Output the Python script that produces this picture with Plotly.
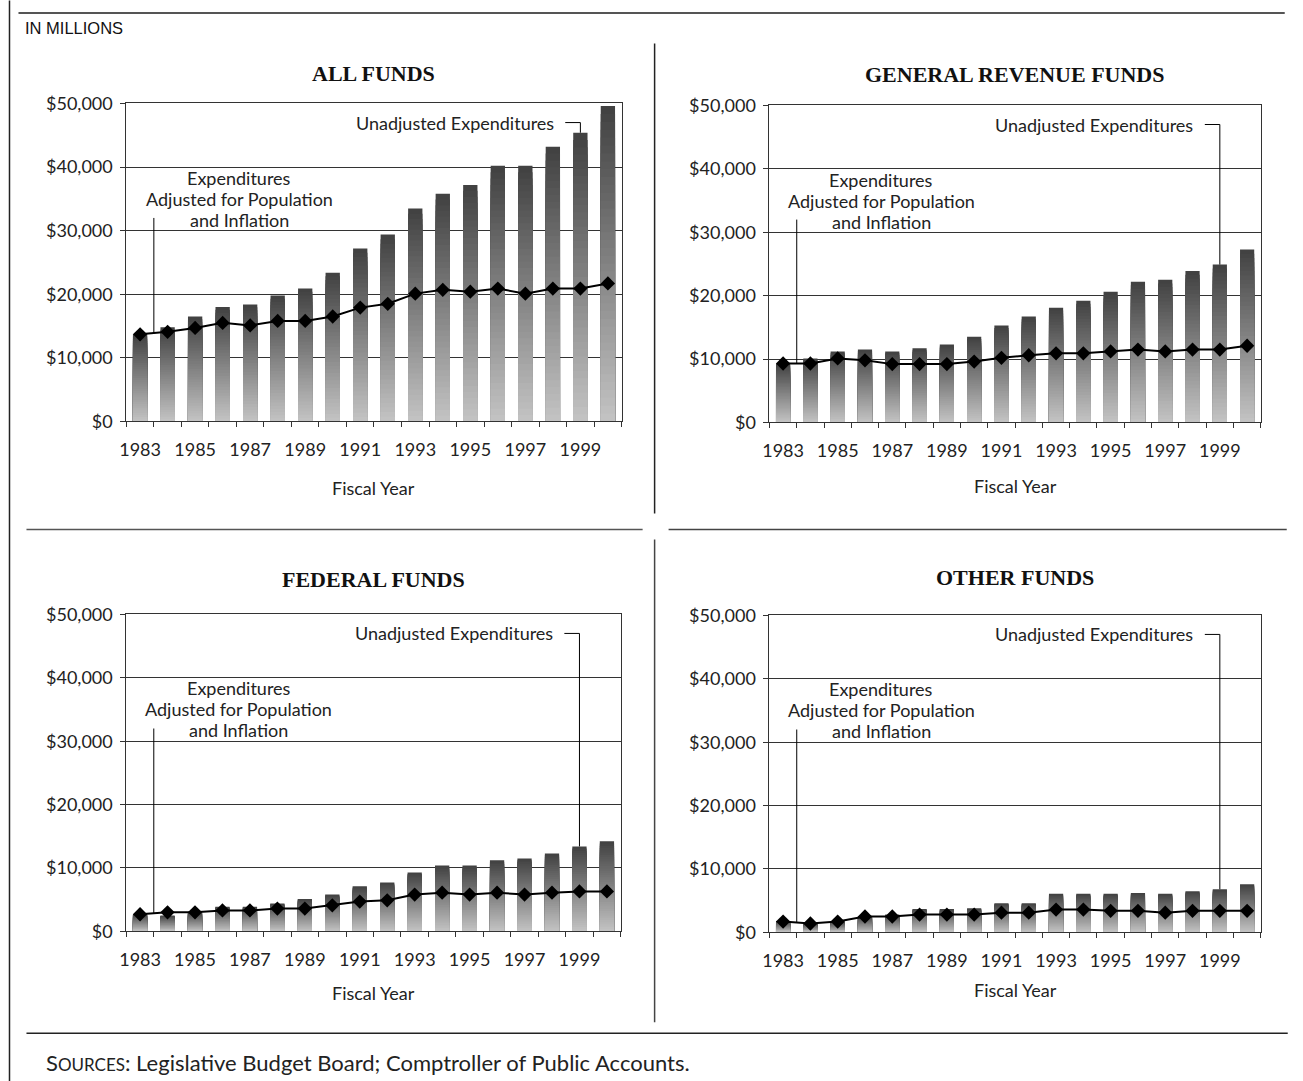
import plotly.graph_objects as go

# ---------------- data ----------------
years = list(range(1983, 2001))
tick_years = list(range(1983, 2000, 2))
tick_labels = [str(y) for y in tick_years]
y_ticks = [0, 10000, 20000, 30000, 40000, 50000]
y_tick_labels = ["$0", "$10,000", "$20,000", "$30,000", "$40,000", "$50,000"]

titles = ["ALL FUNDS", "GENERAL REVENUE FUNDS", "FEDERAL FUNDS", "OTHER FUNDS"]

all_unadjusted = [13700, 14800, 16500, 18000, 18400, 19800, 20900, 23400, 27200,
                  29400, 33500, 35800, 37200, 40200, 40200, 43200, 45400, 49600]
all_adjusted = [13700, 14100, 14700, 15500, 15100, 15800, 15800, 16500, 17900,
                18500, 20100, 20700, 20400, 20900, 20100, 20900, 20900, 21700]

gr_unadjusted = [9300, 10100, 11200, 11500, 11200, 11700, 12300, 13500, 15300,
                 16700, 18100, 19200, 20600, 22200, 22500, 23900, 24900, 27300]
gr_adjusted = [9300, 9300, 10100, 9800, 9200, 9200, 9200, 9600, 10200,
               10600, 10900, 10900, 11200, 11500, 11200, 11500, 11500, 12100]

fed_unadjusted = [2700, 2500, 3000, 3900, 3900, 4400, 5100, 5800, 7100,
                  7700, 9300, 10400, 10400, 11200, 11500, 12300, 13400, 14200]
fed_adjusted = [2700, 3000, 3000, 3300, 3300, 3600, 3600, 4100, 4700,
                4900, 5800, 6100, 5800, 6100, 5800, 6100, 6300, 6300]

oth_unadjusted = [1800, 1400, 1700, 2600, 2800, 3700, 3700, 3800, 4600,
                  4600, 6100, 6100, 6100, 6200, 6100, 6500, 6800, 7600]
oth_adjusted = [1700, 1400, 1700, 2500, 2500, 2800, 2800, 2800, 3100,
                3100, 3600, 3600, 3400, 3400, 3100, 3400, 3400, 3400]

unadjusted_series = [all_unadjusted, gr_unadjusted, fed_unadjusted, oth_unadjusted]
adjusted_series = [all_adjusted, gr_adjusted, fed_adjusted, oth_adjusted]

label_unadj = "Unadjusted Expenditures"
label_adj_lines = ["Expenditures", "Adjusted for Population", "and Inflation"]
x_title = "Fiscal Year"

# ---------------- layout helpers ----------------
FONT = "Lato, 'Noto Sans', sans-serif"
TXT = "#222222"
AX = "#333333"

FW, FH = 1303, 1092
# screen placement of the figure observed in the photographed page
SX, SY, DX, DY = 0.996, 0.98, 5.5, 11.5


def px(x):
    return ((x - DX) / SX) / FW


def py(y):
    return 1 - ((y - DY) / SY) / FH


# plot areas in screen pixels: (left, right, top, bottom)
boxes = [(125, 621, 103, 421), (769, 1261, 105, 422),
         (125, 620, 614, 931), (769, 1261, 615, 932)]
title_y = [73, 74, 579, 577]
xtitle_y = [488, 486, 993, 990]

N = 40
dark, light = 66, 194


def seg_color(k):
    # k = 0 -> full-height bar (darkest, drawn first); later bars lighter and shorter
    t = k / (N - 1)
    v = int(round(dark + (light - dark) * t))
    return f"rgb({v},{v},{v})"


fig = go.Figure()
annotations = []
shapes = []
layout_axes = {}

for i in range(4):
    s = "" if i == 0 else str(i + 1)
    xa, ya = "x" + s, "y" + s
    unadj = unadjusted_series[i]
    adj = adjusted_series[i]
    l, r, t, b = boxes[i]

    for k in range(N):
        frac = (N - k) / N
        fig.add_trace(go.Bar(
            x=years, y=[v * frac for v in unadj],
            width=0.52, marker=dict(color=seg_color(k), line=dict(width=0)),
            xaxis=xa, yaxis=ya, showlegend=False, hoverinfo="skip"))
    fig.add_trace(go.Scatter(
        x=years, y=adj, mode="lines+markers",
        line=dict(color="black", width=2),
        marker=dict(symbol="diamond", size=11, color="black"),
        xaxis=xa, yaxis=ya, showlegend=False, hoverinfo="skip"))

    layout_axes["xaxis" + s] = dict(
        domain=[px(l), px(r)], anchor=ya, range=[years[0] - 0.5, years[-1] + 0.5],
        tickmode="array", tickvals=tick_years, ticktext=tick_labels, ticks="",
        ticklabelstandoff=12,
        showline=True, mirror=True, linecolor=AX, linewidth=1,
        showgrid=False, zeroline=False, fixedrange=True,
        minor=dict(tickmode="array", tickvals=[y - 0.5 for y in years] + [years[-1] + 0.5],
                   ticks="outside", ticklen=5, tickcolor=AX, showgrid=False),
        tickfont=dict(size=18, color=TXT, family=FONT))
    layout_axes["yaxis" + s] = dict(
        domain=[py(b), py(t)], anchor=xa, range=[0, 50000],
        tickmode="array", tickvals=y_ticks, ticktext=y_tick_labels,
        ticks="outside", ticklen=5, tickcolor=AX, ticklabelstandoff=4,
        showgrid=True, gridcolor=AX, gridwidth=1,
        showline=True, mirror=True, linecolor=AX, linewidth=1,
        zeroline=False, fixedrange=True,
        tickfont=dict(size=18, color=TXT, family=FONT))

    cx = px((l + r) / 2)
    annotations.append(dict(
        text=f"<b>{titles[i]}</b>", x=cx, y=py(title_y[i]), xref="paper", yref="paper",
        showarrow=False, xanchor="center", yanchor="middle",
        font=dict(family="'Liberation Serif', 'DejaVu Serif', serif", size=22, color="#111")))
    annotations.append(dict(
        text=x_title, x=cx, y=py(xtitle_y[i]), xref="paper", yref="paper",
        showarrow=False, xanchor="center", yanchor="middle",
        font=dict(family=FONT, size=18, color=TXT)))
    annotations.append(dict(
        text=label_unadj, x=1998.1, y=47000, xref=xa, yref=ya,
        showarrow=False, xanchor="right", yanchor="middle",
        font=dict(family=FONT, size=18, color=TXT)))
    for j, line_txt in enumerate(label_adj_lines):
        annotations.append(dict(
            text=line_txt, x=1986.6, y=35000, yshift=21 * (1 - j), xref=xa, yref=ya,
            showarrow=False, xanchor="center", yanchor="middle",
            font=dict(family=FONT, size=18, color=TXT)))

    # leader lines
    shapes.append(dict(
        type="path", xref=xa, yref=ya,
        path=f"M 1998.45 47000 L 1999 47000 L 1999 {unadj[16]}",
        line=dict(color="black", width=1)))
    shapes.append(dict(
        type="line", xref=xa, yref=ya, x0=1983.5, x1=1983.5,
        y0=32000, y1=(adj[0] + adj[1]) / 2,
        line=dict(color="black", width=1)))

# frame lines (screen pixels)
frame = [
    (17, 12.5, 1285, 12.5, "#555555", 2),
    (8, 0, 8, 1085, "#222222", 1.5),
    (654, 43, 654, 513, "#222222", 1.5),
    (654, 539, 654, 1022, "#444444", 1.5),
    (25, 529, 642, 529, "#555555", 1.5),
    (668, 529, 1287, 529, "#444444", 1.5),
    (25, 1033, 1288, 1033, "#222222", 1.5),
]
for x0, y0, x1, y1, c, w in frame:
    shapes.append(dict(type="line", xref="paper", yref="paper",
                       x0=px(x0), y0=py(y0), x1=px(x1), y1=py(y1),
                       line=dict(color=c, width=w)))

annotations.append(dict(
    text="IN MILLIONS", x=px(22), y=py(28), xref="paper", yref="paper",
    showarrow=False, xanchor="left", yanchor="middle",
    font=dict(family="'Liberation Sans', Arial, sans-serif", size=16.5, color="#111")))
annotations.append(dict(
    text="S<span style='font-size:17px'>OURCES</span>: Legislative Budget Board; Comptroller of Public Accounts.",
    x=px(43), y=py(1062), xref="paper", yref="paper",
    showarrow=False, xanchor="left", yanchor="middle",
    font=dict(family=FONT, size=22, color=TXT)))

fig.update_layout(
    width=FW, height=FH, margin=dict(l=0, r=0, t=0, b=0),
    paper_bgcolor="white", plot_bgcolor="white",
    barmode="overlay", showlegend=False,
    font=dict(family=FONT, color=TXT),
    annotations=annotations, shapes=shapes,
    **layout_axes)

fig.write_html("out.html")
